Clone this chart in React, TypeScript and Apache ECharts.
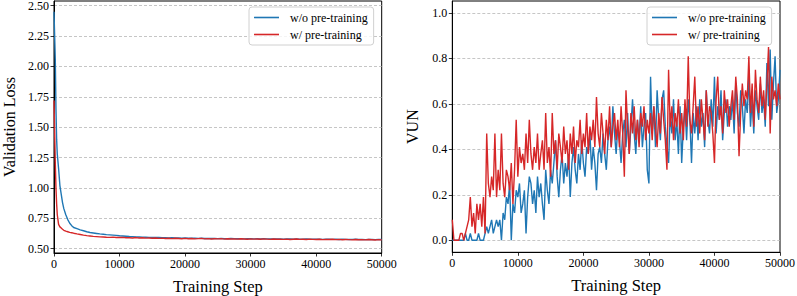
import React, { useEffect, useRef } from "react";
import * as echarts from "echarts";

// ---------- Validation loss ----------
const lossStepsEarly = [0, 100, 200, 300, 400, 500, 700, 900, 1100, 1300, 1500, 1800, 2100, 2400, 2700, 3000, 3500, 4000, 4500];
const lossStepsTail: number[] = [];
for (let s = 5000; s <= 50000; s += 500) lossStepsTail.push(s);
const lossSteps = [...lossStepsEarly, ...lossStepsTail];

const lossBlue = [
  2.45, 2.25, 2.05, 1.65, 1.40, 1.28, 1.16, 1.02, 0.95, 0.88, 0.83, 0.78, 0.74, 0.71, 0.69, 0.675, 0.665, 0.655, 0.648,
  0.640, 0.634, 0.630, 0.626, 0.622, 0.619, 0.616, 0.614, 0.612, 0.610,
  0.607, 0.605, 0.603, 0.601, 0.600, 0.598, 0.597, 0.596, 0.595, 0.594,
  0.593, 0.592, 0.592, 0.591, 0.590, 0.589, 0.590, 0.588, 0.589, 0.587,
  0.588, 0.586, 0.587, 0.586, 0.585, 0.586, 0.584, 0.585, 0.584, 0.585,
  0.583, 0.584, 0.583, 0.582, 0.584, 0.583, 0.582, 0.583, 0.581, 0.582,
  0.583, 0.581, 0.582, 0.580, 0.582, 0.581, 0.580, 0.581, 0.580, 0.581,
  0.579, 0.580, 0.581, 0.579, 0.580, 0.578, 0.579, 0.580, 0.578, 0.579,
  0.578, 0.579, 0.577, 0.578, 0.579, 0.577, 0.578, 0.576, 0.578, 0.577,
  0.576, 0.577, 0.578, 0.576, 0.577, 0.575, 0.576, 0.577, 0.575, 0.576,
  0.576,
];
const lossRed = [
  1.72, 1.45, 1.20, 1.00, 0.87, 0.78, 0.70, 0.68, 0.67, 0.66, 0.652, 0.645, 0.64, 0.635, 0.632, 0.628, 0.622, 0.617, 0.612,
  0.608, 0.605, 0.602, 0.600, 0.598, 0.597, 0.595, 0.594, 0.596, 0.593,
  0.592, 0.594, 0.590, 0.591, 0.589, 0.592, 0.588, 0.590, 0.587, 0.589,
  0.586, 0.588, 0.585, 0.587, 0.584, 0.586, 0.583, 0.586, 0.584, 0.582,
  0.585, 0.582, 0.584, 0.581, 0.583, 0.585, 0.581, 0.583, 0.580, 0.582,
  0.581, 0.583, 0.579, 0.582, 0.580, 0.581, 0.579, 0.582, 0.580, 0.578,
  0.581, 0.579, 0.580, 0.578, 0.581, 0.579, 0.577, 0.580, 0.578, 0.579,
  0.577, 0.579, 0.576, 0.578, 0.580, 0.577, 0.578, 0.576, 0.579, 0.577,
  0.576, 0.578, 0.575, 0.577, 0.576, 0.578, 0.575, 0.577, 0.574, 0.576,
  0.575, 0.573, 0.576, 0.574, 0.575, 0.573, 0.576, 0.574, 0.572, 0.575,
  0.573,
];

// ---------- VUN (evaluated every 250 steps) ----------
const VUN_STEP = 250;
const vunBlue = [
  0, 0, 0, 0, 0, 0, 0, 0, 0.03, 0,
  0, 0.03, 0, 0, 0, 0, 0.03, 0, 0, 0,
  0.03, 0.06, 0.03, 0.06, 0.09, 0.03, 0.06, 0.09, 0.06, 0.09,
  0.0, 0.12, 0.09, 0.19, 0.16, 0.25, 0.0, 0.16, 0.12, 0.22,
  0.19, 0.25, 0.12, 0.16, 0.22, 0.03, 0.19, 0.28, 0.25, 0.16,
  0.22, 0.12, 0.28, 0.19, 0.25, 0.16, 0.09, 0.31, 0.22, 0.16,
  0.31, 0.25, 0.34, 0.44, 0.28, 0.19, 0.31, 0.38, 0.25, 0.34,
  0.28, 0.38, 0.19, 0.34, 0.41, 0.31, 0.25, 0.38, 0.31, 0.44,
  0.34, 0.28, 0.41, 0.38, 0.47, 0.31, 0.41, 0.34, 0.22, 0.38,
  0.41, 0.34, 0.47, 0.38, 0.31, 0.44, 0.50, 0.41, 0.59, 0.47,
  0.38, 0.50, 0.44, 0.34, 0.47, 0.53, 0.41, 0.56, 0.38, 0.50,
  0.62, 0.47, 0.38, 0.53, 0.44, 0.59, 0.41, 0.50, 0.56, 0.31,
  0.25, 0.72, 0.47, 0.59, 0.41, 0.66, 0.53, 0.44, 0.62, 0.66,
  0.50, 0.41, 0.34, 0.56, 0.47, 0.62, 0.44, 0.53, 0.38, 0.59,
  0.34, 0.50, 0.59, 0.44, 0.62, 0.53, 0.34, 0.56, 0.47, 0.59,
  0.44, 0.62, 0.50, 0.56, 0.41, 0.66, 0.53, 0.47, 0.62, 0.50,
  0.72, 0.47, 0.59, 0.53, 0.66, 0.44, 0.56, 0.62, 0.50, 0.59,
  0.53, 0.62, 0.47, 0.69, 0.56, 0.50, 0.66, 0.59, 0.47, 0.62,
  0.56, 0.72, 0.50, 0.62, 0.47, 0.66, 0.59, 0.53, 0.69, 0.56,
  0.62, 0.50, 0.78, 0.59, 0.84, 0.53, 0.69, 0.81, 0.56, 0.62,
  0.75,
];
const vunRed = [
  0.09, 0, 0, 0, 0, 0.03, 0.03, 0, 0.03, 0.06,
  0.09, 0.19, 0.06, 0.12, 0.03, 0.16, 0.09, 0.16, 0.06, 0.19,
  0.03, 0.47, 0.25, 0.19, 0.28, 0.22, 0.47, 0.19, 0.31, 0.22,
  0.47, 0.25, 0.19, 0.31, 0.28, 0.22, 0.34, 0.16, 0.31, 0.53,
  0.28, 0.41, 0.34, 0.38, 0.31, 0.47, 0.34, 0.53, 0.38, 0.31,
  0.41, 0.34, 0.47, 0.31, 0.38, 0.44, 0.31, 0.56, 0.34, 0.41,
  0.28, 0.56, 0.38, 0.44, 0.31, 0.47, 0.41, 0.34, 0.50, 0.38,
  0.44, 0.31, 0.47, 0.38, 0.50, 0.34, 0.44, 0.41, 0.53, 0.38,
  0.47, 0.41, 0.56, 0.38, 0.50, 0.44, 0.53, 0.41, 0.63, 0.47,
  0.41, 0.56, 0.47, 0.38, 0.53, 0.44, 0.59, 0.41, 0.50, 0.56,
  0.44, 0.53, 0.41, 0.59, 0.47, 0.28, 0.66, 0.50, 0.38, 0.56,
  0.47, 0.59, 0.44, 0.53, 0.41, 0.56, 0.50, 0.59, 0.44, 0.53,
  0.47, 0.56, 0.44, 0.59, 0.50, 0.41, 0.56, 0.47, 0.63, 0.53,
  0.44, 0.31, 0.75, 0.50, 0.59, 0.44, 0.56, 0.50, 0.62, 0.47,
  0.56, 0.44, 0.62, 0.50, 0.81, 0.53, 0.47, 0.59, 0.72, 0.50,
  0.59, 0.47, 0.62, 0.53, 0.44, 0.66, 0.50, 0.59, 0.56, 0.47,
  0.34, 0.62, 0.72, 0.53, 0.59, 0.47, 0.66, 0.56, 0.62, 0.50,
  0.59, 0.66, 0.53, 0.72, 0.62, 0.37, 0.56, 0.69, 0.59, 0.66,
  0.62, 0.81, 0.56, 0.69, 0.50, 0.75, 0.62, 0.56, 0.72, 0.59,
  0.66, 0.53, 0.69, 0.85, 0.47, 0.72, 0.62, 0.66, 0.59, 0.69,
  0.62,
];

const lossTicks = [0.5, 0.75, 1.0, 1.25, 1.5, 1.75, 2.0, 2.25, 2.5];
const vunTicks = [0, 0.2, 0.4, 0.6, 0.8, 1.0];
const xTicksInterval = 10000;
const seriesNames = ["w/o pre-training", "w/ pre-training"];

const BLUE = "#1f77b4";
const RED = "#d62728";
const FONT = "'Liberation Serif', 'DejaVu Serif', serif";

export default function App() {
  const ref = useRef<HTMLDivElement>(null);
  useEffect(() => {
    if (!ref.current) return;
    const chart = echarts.init(ref.current, undefined, { renderer: "svg" });

    const xAxisBase = (gridIndex: number) => ({
      type: "value",
      gridIndex,
      min: 0,
      max: 50000,
      interval: xTicksInterval,
      name: "Training Step",
      nameLocation: "middle",
      nameGap: 25,
      nameTextStyle: { fontFamily: FONT, fontSize: 16.5, color: "#000" },
      axisLine: { show: true, onZero: false, lineStyle: { color: "#000", width: 1 } },
      axisTick: { show: true, inside: false, length: 3.5, lineStyle: { color: "#000", width: 0.8 } },
      axisLabel: { color: "#000", fontFamily: FONT, fontSize: 12, margin: 5, formatter: (v: number) => String(v) },
      splitLine: { show: false },
    });

    const yAxisBase = (gridIndex: number, name: string, min: number, max: number, ticks: number[], digits: number, nameGap: number) => ({
      type: "value",
      gridIndex,
      min,
      max,
      name,
      nameLocation: "middle",
      nameGap,
      nameTextStyle: { fontFamily: FONT, fontSize: 16, color: "#000" },
      axisLine: { show: true, onZero: false, lineStyle: { color: "#000", width: 1 } },
      axisTick: { show: true, inside: false, length: 3.5, customValues: ticks, lineStyle: { color: "#000", width: 0.8 } },
      axisLabel: {
        color: "#000",
        fontFamily: FONT,
        fontSize: 12,
        margin: 5,
        customValues: ticks,
        formatter: (v: number) => v.toFixed(digits),
      },
      splitLine: { show: true, lineStyle: { color: "#b8b8b8", width: 0.8, type: [3, 2] } },
    });

    const legendBase = (left: number) => ({
      data: seriesNames,
      left,
      top: 7,
      orient: "vertical",
      icon: "rect",
      itemWidth: 25,
      itemHeight: 1.6,
      itemGap: 4,
      padding: [4, 6, 4, 5],
      backgroundColor: "rgba(255,255,255,0.8)",
      borderColor: "#d0d0d0",
      borderWidth: 1,
      borderRadius: 3,
      selectedMode: false,
      textStyle: { fontFamily: FONT, fontSize: 12, color: "#000", padding: [0, 0, 0, 6], lineHeight: 13 },
    });

    const line = (name: string, color: string, xi: number, data: number[][]) => ({
      type: "line",
      name,
      xAxisIndex: xi,
      yAxisIndex: xi,
      data,
      symbol: "none",
      showSymbol: false,
      lineStyle: { color, width: 1.4 },
      itemStyle: { color },
    });

    const gridBase = { top: 1, show: true, borderColor: "#000", borderWidth: 1, backgroundColor: "transparent", containLabel: false, outerBoundsMode: "none" };

    chart.setOption({
      animation: false,
      backgroundColor: "#fff",
      grid: [
        { ...gridBase, left: 54, right: 415.3, bottom: 43 },
        { ...gridBase, left: 452.3, right: 17, bottom: 43.7 },
      ],
      xAxis: [xAxisBase(0), xAxisBase(1)],
      yAxis: [
        yAxisBase(0, "Validation Loss", 0.465, 2.539, lossTicks, 2, 36.5),
        yAxisBase(1, "VUN", -0.053, 1.053, vunTicks, 1, 32),
      ],
      legend: [legendBase(249), legendBase(647)],
      series: [
        line(seriesNames[0], BLUE, 0, lossSteps.map((s, i) => [s, lossBlue[i]])),
        line(seriesNames[1], RED, 0, lossSteps.map((s, i) => [s, lossRed[i]])),
        line(seriesNames[0], BLUE, 1, vunBlue.map((v, i) => [i * VUN_STEP, v])),
        line(seriesNames[1], RED, 1, vunRed.map((v, i) => [i * VUN_STEP, v])),
      ],
    });
    return () => chart.dispose();
  }, []);

  return (
    <div
      ref={ref}
      style={{ position: "fixed", left: 0, top: 0, width: 797, height: 296, background: "#fff" }}
    />
  );
}
